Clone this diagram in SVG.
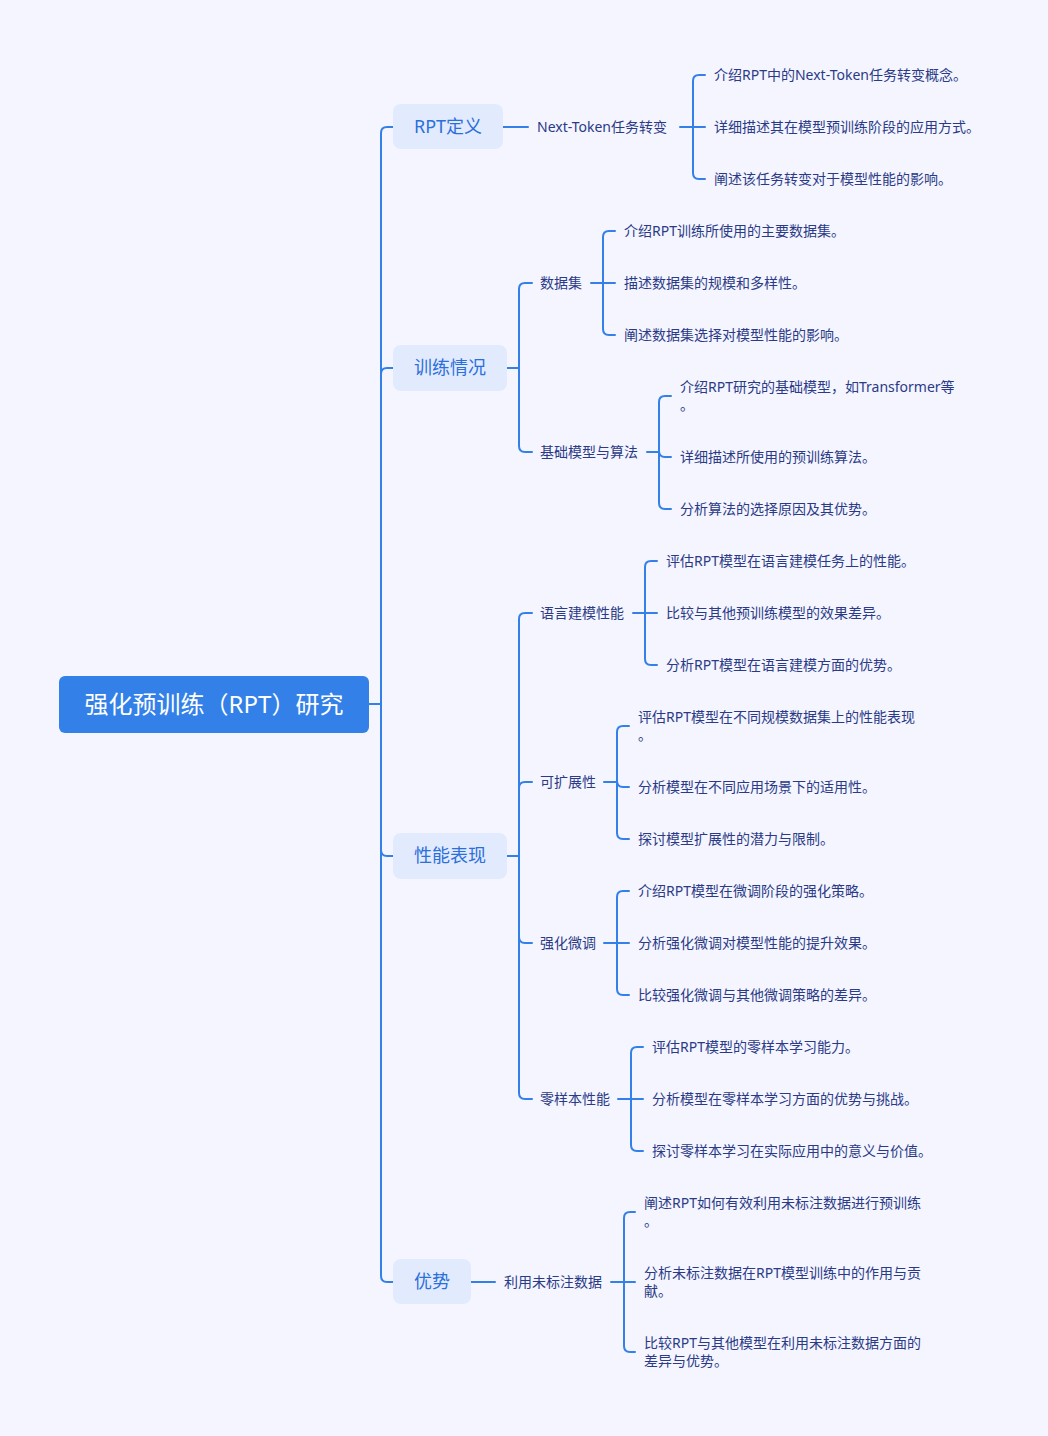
<svg xmlns="http://www.w3.org/2000/svg" width="1048" height="1436" viewBox="0 0 1048 1436">
<style>
text{font-family:"Noto Sans","Noto Sans CJK SC",sans-serif;dominant-baseline:central;transform:translateY(-1px)}
.root{fill:#3381E8}
.rootT{fill:#FFFFFF;font-size:24px;text-anchor:middle}
.l1{fill:#E2EBFD}
.l1T{fill:#2C6FDB;font-size:18px;text-anchor:middle}
.t{fill:#2B3A87;font-size:14px}
.c{fill:none;stroke:#3381E8;stroke-width:2;stroke-linecap:round}
</style>
<rect width="1048" height="1436" fill="#F4F5FE"/>
<g id="connectors">
<path class="c" d="M369,704 H381"/>
<path class="c" d="M381,704 V133 Q381,127 387,127 H393"/>
<path class="c" d="M381,704 V374 Q381,368 387,368 H393"/>
<path class="c" d="M381,704 V850 Q381,856 387,856 H393"/>
<path class="c" d="M381,704 V1276 Q381,1282 387,1282 H393"/>
<path class="c" d="M503,127 H528"/>
<path class="c" d="M680,127 H693"/>
<path class="c" d="M693,127 V81 Q693,75 699,75 H705"/>
<path class="c" d="M693,127 H705"/>
<path class="c" d="M693,127 V173 Q693,179 699,179 H705"/>
<path class="c" d="M507,368 H519"/>
<path class="c" d="M519,368 V289 Q519,283 525,283 H532"/>
<path class="c" d="M519,368 V446 Q519,452 525,452 H532"/>
<path class="c" d="M591,283 H603"/>
<path class="c" d="M603,283 V237 Q603,231 609,231 H615"/>
<path class="c" d="M603,283 H615"/>
<path class="c" d="M603,283 V329 Q603,335 609,335 H615"/>
<path class="c" d="M647,452 H659"/>
<path class="c" d="M659,452 V402 Q659,396 665,396 H671"/>
<path class="c" d="M659,452 V451 Q659,457 665,457 H671"/>
<path class="c" d="M659,452 V503 Q659,509 665,509 H671"/>
<path class="c" d="M507,856 H519"/>
<path class="c" d="M519,856 V619 Q519,613 525,613 H532"/>
<path class="c" d="M519,856 V788 Q519,782 525,782 H532"/>
<path class="c" d="M519,856 V937 Q519,943 525,943 H532"/>
<path class="c" d="M519,856 V1093 Q519,1099 525,1099 H532"/>
<path class="c" d="M633,613 H645"/>
<path class="c" d="M645,613 V567 Q645,561 651,561 H657"/>
<path class="c" d="M645,613 H657"/>
<path class="c" d="M645,613 V659 Q645,665 651,665 H657"/>
<path class="c" d="M604,782 H617"/>
<path class="c" d="M617,782 V732 Q617,726 623,726 H629"/>
<path class="c" d="M617,782 V781 Q617,787 623,787 H629"/>
<path class="c" d="M617,782 V833 Q617,839 623,839 H629"/>
<path class="c" d="M604,943 H617"/>
<path class="c" d="M617,943 V897 Q617,891 623,891 H629"/>
<path class="c" d="M617,943 H629"/>
<path class="c" d="M617,943 V989 Q617,995 623,995 H629"/>
<path class="c" d="M618,1099 H631"/>
<path class="c" d="M631,1099 V1053 Q631,1047 637,1047 H643"/>
<path class="c" d="M631,1099 H643"/>
<path class="c" d="M631,1099 V1145 Q631,1151 637,1151 H643"/>
<path class="c" d="M471,1282 H495"/>
<path class="c" d="M611,1282 H624"/>
<path class="c" d="M624,1282 V1218 Q624,1212 630,1212 H635"/>
<path class="c" d="M624,1282 H635"/>
<path class="c" d="M624,1282 V1346 Q624,1352 630,1352 H635"/>
</g>
<g id="root"><rect class="root" x="59" y="676" width="310" height="57" rx="6"/><text class="rootT" x="214" y="704">强化预训练（RPT）研究</text></g>
<g id="n-def"><rect class="l1" x="393" y="104" width="110" height="45" rx="8"/><text class="l1T" x="448" y="127">RPT定义</text></g>
<g id="n-train"><rect class="l1" x="393" y="345" width="114" height="46" rx="8"/><text class="l1T" x="450" y="368">训练情况</text></g>
<g id="n-perf"><rect class="l1" x="393" y="833" width="114" height="46" rx="8"/><text class="l1T" x="450" y="856">性能表现</text></g>
<g id="n-adv"><rect class="l1" x="393" y="1259" width="78" height="45" rx="8"/><text class="l1T" x="432" y="1282">优势</text></g>
<g id="n-nt"><text class="t" x="537" y="127">Next-Token任务转变</text></g>
<g id="n-nt-1"><text class="t" x="714" y="75">介绍RPT中的Next-Token任务转变概念。</text></g>
<g id="n-nt-2"><text class="t" x="714" y="127">详细描述其在模型预训练阶段的应用方式。</text></g>
<g id="n-nt-3"><text class="t" x="714" y="179">阐述该任务转变对于模型性能的影响。</text></g>
<g id="n-ds"><text class="t" x="540" y="283">数据集</text></g>
<g id="n-ds-1"><text class="t" x="624" y="231">介绍RPT训练所使用的主要数据集。</text></g>
<g id="n-ds-2"><text class="t" x="624" y="283">描述数据集的规模和多样性。</text></g>
<g id="n-ds-3"><text class="t" x="624" y="335">阐述数据集选择对模型性能的影响。</text></g>
<g id="n-base"><text class="t" x="540" y="452">基础模型与算法</text></g>
<g id="n-base-1"><text class="t" x="680" y="387">介绍RPT研究的基础模型，如Transformer等</text><text class="t" x="680" y="405">。</text></g>
<g id="n-base-2"><text class="t" x="680" y="457">详细描述所使用的预训练算法。</text></g>
<g id="n-base-3"><text class="t" x="680" y="509">分析算法的选择原因及其优势。</text></g>
<g id="n-lm"><text class="t" x="540" y="613">语言建模性能</text></g>
<g id="n-lm-1"><text class="t" x="666" y="561">评估RPT模型在语言建模任务上的性能。</text></g>
<g id="n-lm-2"><text class="t" x="666" y="613">比较与其他预训练模型的效果差异。</text></g>
<g id="n-lm-3"><text class="t" x="666" y="665">分析RPT模型在语言建模方面的优势。</text></g>
<g id="n-sc"><text class="t" x="540" y="782">可扩展性</text></g>
<g id="n-sc-1"><text class="t" x="638" y="717">评估RPT模型在不同规模数据集上的性能表现</text><text class="t" x="638" y="735">。</text></g>
<g id="n-sc-2"><text class="t" x="638" y="787">分析模型在不同应用场景下的适用性。</text></g>
<g id="n-sc-3"><text class="t" x="638" y="839">探讨模型扩展性的潜力与限制。</text></g>
<g id="n-rf"><text class="t" x="540" y="943">强化微调</text></g>
<g id="n-rf-1"><text class="t" x="638" y="891">介绍RPT模型在微调阶段的强化策略。</text></g>
<g id="n-rf-2"><text class="t" x="638" y="943">分析强化微调对模型性能的提升效果。</text></g>
<g id="n-rf-3"><text class="t" x="638" y="995">比较强化微调与其他微调策略的差异。</text></g>
<g id="n-zs"><text class="t" x="540" y="1099">零样本性能</text></g>
<g id="n-zs-1"><text class="t" x="652" y="1047">评估RPT模型的零样本学习能力。</text></g>
<g id="n-zs-2"><text class="t" x="652" y="1099">分析模型在零样本学习方面的优势与挑战。</text></g>
<g id="n-zs-3"><text class="t" x="652" y="1151">探讨零样本学习在实际应用中的意义与价值。</text></g>
<g id="n-ul"><text class="t" x="504" y="1282">利用未标注数据</text></g>
<g id="n-ul-1"><text class="t" x="644" y="1203">阐述RPT如何有效利用未标注数据进行预训练</text><text class="t" x="644" y="1221">。</text></g>
<g id="n-ul-2"><text class="t" x="644" y="1273">分析未标注数据在RPT模型训练中的作用与贡</text><text class="t" x="644" y="1291">献。</text></g>
<g id="n-ul-3"><text class="t" x="644" y="1343">比较RPT与其他模型在利用未标注数据方面的</text><text class="t" x="644" y="1361">差异与优势。</text></g>
</svg>
